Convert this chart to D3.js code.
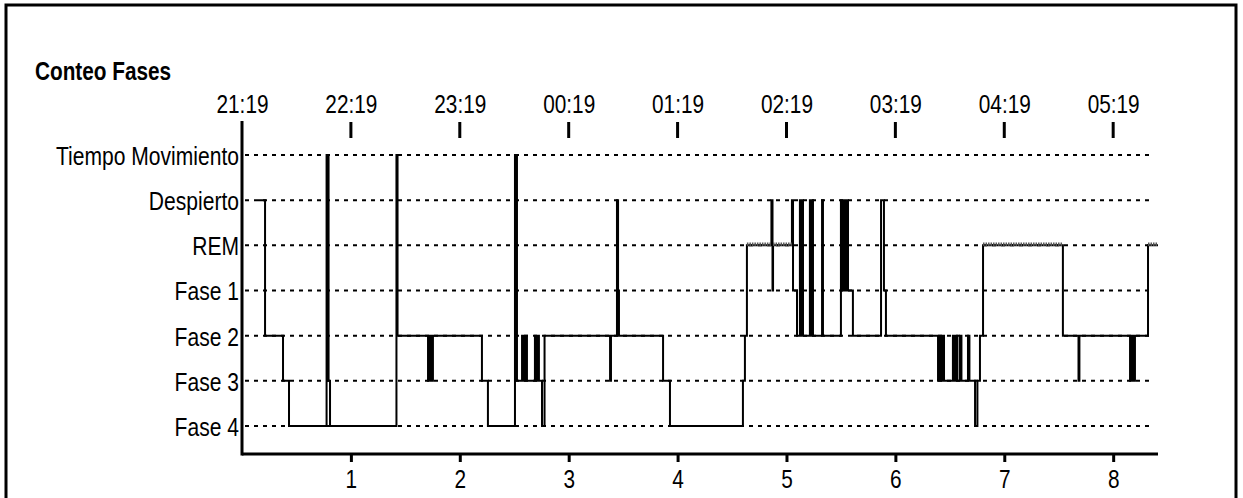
<!DOCTYPE html>
<html>
<head>
<meta charset="utf-8">
<script src="https://cdn.jsdelivr.net/npm/d3@7"></script>
<style>
  html, body { margin: 0; padding: 0; background: #fff; }
  svg { display: block; }
  text { font-family: "Liberation Sans", Arial, sans-serif; fill: #000; }
</style>
</head>
<body>
<svg id="chart" width="1243" height="498"></svg>
<script>
// ---------- DATA ----------
const stageCodes  = ["TM", "D", "REM", "F1", "F2", "F3", "F4"];
const stageLabels = ["Tiempo Movimiento", "Despierto", "REM", "Fase 1", "Fase 2", "Fase 3", "Fase 4"];
const title = "Conteo Fases";
const topTickLabels = ["21:19", "22:19", "23:19", "00:19", "01:19", "02:19", "03:19", "04:19", "05:19"];
const topTickHours = [0, 1, 2, 3, 4, 5, 6, 7, 8];
const bottomTickLabels = ["1", "2", "3", "4", "5", "6", "7", "8"];
const bottomTickHours = [1, 2, 3, 4, 5, 6, 7, 8];
const recordEndMinute = 504.7;   // minutes after 21:19
// hypnogram: stage change times (minutes after 21:19) and the stage entered
const changeMinutes = [
  8.8, 12.7, 22.6, 25.9, 46.6, 47.7, 48.5, 85.1, 85.7,
  102.5, 103.0, 103.6, 104.1, 104.7, 105.2, 132.2, 135.5,
  150.4, 151.5, 154.3, 154.8, 155.4, 155.9, 156.5, 157.0,
  161.4, 162.3, 163.1, 163.6, 165.3, 166.7,
  202.8, 203.3, 206.6, 207.2, 207.7, 232.0, 235.8,
  276.0, 277.1, 278.2, 291.7, 292.3, 292.6,
  303.0, 303.6, 305.8, 307.4, 308.0, 308.5, 309.1,
  312.9, 313.5, 314.0, 314.6, 319.6, 320.1,
  330.0, 330.6, 331.1, 331.7, 332.2, 332.8, 333.3, 333.9, 336.6,
  352.1, 353.7, 354.8,
  383.5, 384.3, 385.1, 385.9, 386.8, 391.7, 392.6, 393.4, 394.2,
  395.6, 396.4, 400.0, 400.8, 403.9, 405.2, 406.6, 408.3,
  452.3, 460.9, 461.4,
  489.3, 489.8, 490.4, 490.9, 491.5, 492.0, 499.2
];
const changeStages = [
  "D", "F2", "F3", "F4", "TM", "F3", "F4", "TM", "F2",
  "F3", "F2", "F3", "F2", "F3", "F2", "F3", "F4",
  "TM", "F3", "F2", "F3", "F2", "F3", "F2", "F3",
  "F2", "F3", "F2", "F3", "F4", "F2",
  "F3", "F2", "D", "F1", "F2", "F3", "F4",
  "F3", "F2", "REM", "D", "F1", "REM",
  "D", "F1", "F2", "D", "F2", "D", "F2",
  "D", "F2", "D", "F2", "D", "F2",
  "D", "F1", "D", "F1", "D", "F1", "D", "F1", "F2",
  "D", "F1", "F2",
  "F3", "F2", "F3", "F2", "F3", "F2", "F3", "F2", "F3",
  "F2", "F3", "F2", "F3", "F4", "F3", "F2", "REM",
  "F2", "F3", "F2",
  "F3", "F2", "F3", "F2", "F3", "F2", "REM"
];

// ---------- LAYOUT ----------
const svg = d3.select("#chart");
const x0 = 242, x1 = 1158;
const yTop = 155, yBot = 426;
const xAxisY = 454;

const x = d3.scaleLinear().domain([0, recordEndMinute]).range([x0, x1]);
const y = d3.scalePoint().domain(stageCodes).range([yTop, yBot]);

// condense text (Arial Narrow look) via textLength
function narrow(sel, f) {
  sel.each(function () {
    const w = this.getComputedTextLength();
    d3.select(this).attr("textLength", w * f).attr("lengthAdjust", "spacingAndGlyphs");
  });
}

// frame
svg.append("rect")
  .attr("x", 6).attr("y", 5).attr("width", 1230).attr("height", 510)
  .attr("fill", "none").attr("stroke", "#000").attr("stroke-width", 3);

// title
svg.append("text")
  .attr("x", 35).attr("y", 80)
  .style("font-size", "25px").style("font-weight", "bold")
  .text(title).call(narrow, 0.83);

// dotted gridlines
svg.append("g").selectAll("line").data(stageCodes).join("line")
  .attr("x1", x0 + 3).attr("x2", 1152)
  .attr("y1", d => y(d)).attr("y2", d => y(d))
  .attr("stroke", "#000").attr("stroke-width", 2)
  .attr("stroke-dasharray", "4,5");

// y axis (labels)
const yAxis = d3.axisLeft(y).tickSize(0).tickPadding(3)
  .tickFormat(d => stageLabels[stageCodes.indexOf(d)]);
const gy = svg.append("g").attr("transform", `translate(${x0},0)`).call(yAxis);
gy.select(".domain").remove();
gy.selectAll("text").attr("font-family", null).style("font-size", "26px").attr("dy", "0.36em").call(narrow, 0.81);

// y axis line
svg.append("line")
  .attr("x1", x0).attr("x2", x0).attr("y1", 121).attr("y2", xAxisY + 1.5)
  .attr("stroke", "#000").attr("stroke-width", 3);

// top time axis
const topAxis = d3.axisTop(x)
  .tickValues(topTickHours.map(h => h * 60))
  .tickSize(0).tickPadding(0)
  .tickFormat((d, i) => topTickLabels[i]);
const gt = svg.append("g").attr("transform", "translate(0,113)").call(topAxis);
gt.select(".domain").remove();
gt.selectAll("text").style("font-size", "26px").attr("dy", "0").call(narrow, 0.8);
svg.append("g").selectAll("line").data(topTickHours.slice(1)).join("line")
  .attr("x1", d => x(d * 60)).attr("x2", d => x(d * 60))
  .attr("y1", 122).attr("y2", 138)
  .attr("stroke", "#000").attr("stroke-width", 3);

// bottom axis
const bottomAxis = d3.axisBottom(x)
  .tickValues(bottomTickHours.map(h => h * 60))
  .tickSize(8).tickPadding(8)
  .tickFormat((d, i) => bottomTickLabels[i]);
const gb = svg.append("g").attr("transform", `translate(0,${xAxisY})`).call(bottomAxis);
gb.select(".domain").remove();
gb.selectAll(".tick line").attr("stroke-width", 3);
gb.selectAll("text").style("font-size", "26px").call(narrow, 0.8);
svg.append("line")
  .attr("x1", x0).attr("x2", x1).attr("y1", xAxisY).attr("y2", xAxisY)
  .attr("stroke", "#000").attr("stroke-width", 3);

// hypnogram
const pts = changeMinutes.map((m, i) => ({ m, s: changeStages[i] }));
pts.push({ m: recordEndMinute, s: changeStages[changeStages.length - 1] });

const line = d3.line().x(d => x(d.m)).y(d => y(d.s)).curve(d3.curveStepAfter);
svg.append("path").datum(pts)
  .attr("d", line)
  .attr("fill", "none").attr("stroke", "#000").attr("stroke-width", 2)
  .attr("stroke-linejoin", "miter");

// hatched REM segments
const remSegs = [];
for (let i = 0; i < pts.length - 1; i++) {
  if (pts[i].s === "REM") remSegs.push([pts[i].m, pts[i + 1].m]);
}
svg.append("g").selectAll("line").data(remSegs).join("line")
  .attr("x1", d => x(d[0])).attr("x2", d => x(d[1]))
  .attr("y1", y("REM") - 1).attr("y2", y("REM") - 1)
  .attr("stroke", "#555").attr("stroke-width", 3.5)
  .attr("stroke-dasharray", "1.5,1");
</script>
</body>
</html>
